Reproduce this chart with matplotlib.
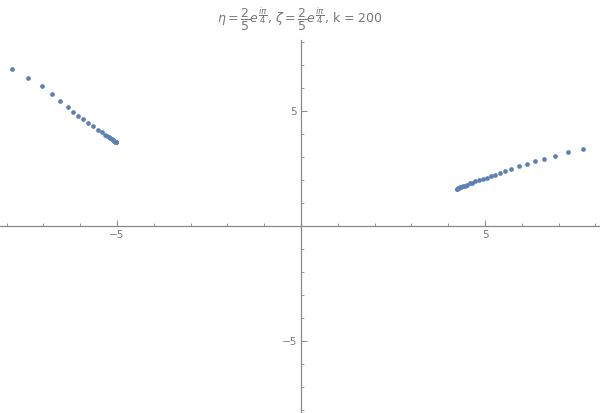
import matplotlib.pyplot as plt
import numpy as np

# 数据：两组点
left_x = [-7.85, -7.41, -7.03, -6.76, -6.54, -6.34, -6.19, -6.05, -5.92, -5.78,
          -5.64, -5.51, -5.42, -5.34, -5.28, -5.23, -5.18, -5.14, -5.11, -5.09,
          -5.07, -5.05, -5.04, -5.03, -5.02]
left_y = [6.81, 6.42, 6.07, 5.73, 5.42, 5.19, 4.97, 4.80, 4.64, 4.48,
          4.33, 4.17, 4.07, 3.98, 3.91, 3.86, 3.81, 3.77, 3.74, 3.71,
          3.69, 3.67, 3.66, 3.65, 3.64]
right_x = [7.67, 7.26, 6.90, 6.61, 6.36, 6.13, 5.92, 5.72, 5.55, 5.42,
           5.28, 5.16, 5.05, 4.94, 4.83, 4.74, 4.66, 4.58, 4.51, 4.45,
           4.40, 4.36, 4.32, 4.29, 4.27, 4.25, 4.24]
right_y = [3.33, 3.20, 3.04, 2.91, 2.81, 2.68, 2.61, 2.46, 2.39, 2.30,
           2.23, 2.17, 2.10, 2.04, 1.99, 1.94, 1.89, 1.85, 1.80, 1.76,
           1.73, 1.70, 1.68, 1.66, 1.64, 1.63, 1.62]
major_ticks = [-5, 5]
title = (r"$\eta = \dfrac{2}{5}e^{\dfrac{i\pi}{4}}$, "
         r"$\zeta = \dfrac{2}{5}e^{\dfrac{i\pi}{4}}$, k = 200")

point_color = '#5E81B5'
axis_color = '#888888'
text_color = '#777777'

fig = plt.figure(figsize=(6, 4.13), dpi=100)
ax = fig.add_axes([0, 0, 1, 373 / 413])

ax.plot(left_x, left_y, 'o', color=point_color, ms=3.4, mec='none')
ax.plot(right_x, right_y, 'o', color=point_color, ms=3.4, mec='none')

ax.set_xlim(-8.18, 8.125)
ax.set_ylim(-8.13, 8.09)

# 坐标轴穿过原点
for side in ['top', 'right']:
    ax.spines[side].set_visible(False)
for side in ['left', 'bottom']:
    ax.spines[side].set_position(('data', 0))
    ax.spines[side].set_color(axis_color)
    ax.spines[side].set_linewidth(0.9)

ax.set_xticks(major_ticks)
ax.set_yticks(major_ticks)
ax.set_xticklabels(['\u22125', '5'])
ax.set_yticklabels(['\u22125', '5'])
minor = [v for v in range(-8, 9) if v not in (-5, 0, 5)]
ax.set_xticks(minor, minor=True)
ax.set_yticks(minor, minor=True)
ax.tick_params(which='major', direction='in', length=4, width=0.7,
               color=axis_color, labelsize=7.5, labelcolor=text_color, pad=3)
ax.tick_params(which='minor', direction='in', length=2.5, width=0.6,
               color=axis_color)

fig.text(0.5, 1 - 19 / 413, title, ha='center', va='center',
         fontsize=9, color=text_color)

fig.savefig('out.png', dpi=100)
